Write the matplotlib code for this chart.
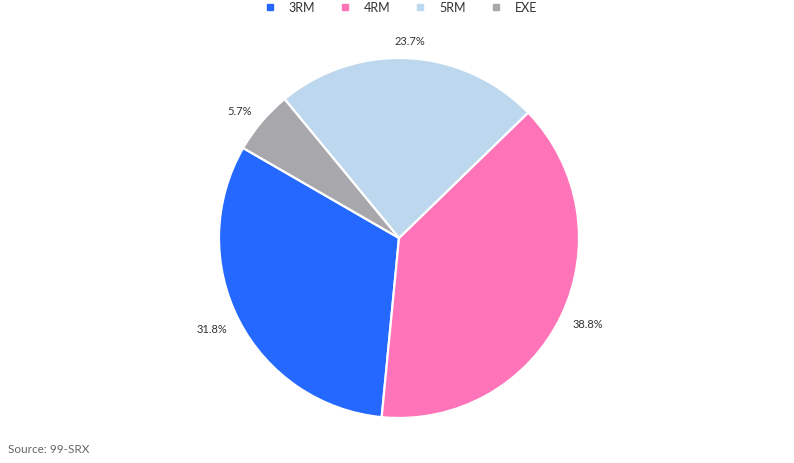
import matplotlib
matplotlib.use("Agg")
import matplotlib.pyplot as plt
from matplotlib.lines import Line2D
import numpy as np

plt.rcParams['font.family'] = ['Lato', 'DejaVu Sans']

# data
categories = ["3RM", "4RM", "5RM", "EXE"]
shares = [31.8, 38.8, 23.7, 5.7]
colors = ["#2468ff", "#ff74b8", "#bdd8ee", "#a8a8ac"]

W, H = 794, 464
fig = plt.figure(figsize=(W / 100, H / 100), dpi=100)

# pie centre and radius in pixels
cx, cy, r = 399, 239, 180
ax = fig.add_axes([(cx - r) / W, (H - cy - r) / H, 2 * r / W, 2 * r / H])

wedges, _ = ax.pie(shares, colors=colors, startangle=150, counterclock=True,
                   wedgeprops=dict(edgecolor="white", linewidth=1.6))
ax.set_xlim(-1, 1)
ax.set_ylim(-1, 1)
ax.set_aspect("equal")
ax.axis("off")

# percentage labels outside
for w, v in zip(wedges, shares):
    mid = np.deg2rad((w.theta1 + w.theta2) / 2)
    x, y = np.cos(mid), np.sin(mid)
    if abs(x) < 0.2:
        ha = "center"
    elif x > 0:
        ha = "left"
    else:
        ha = "right"
    ax.text(1.07 * x, 1.1 * y, f"{v}%", ha=ha, va="center", fontsize=8,
            color="#333333", clip_on=False)

handles = [Line2D([], [], marker="s", linestyle="none", markersize=5,
                  markerfacecolor=c, markeredgecolor=c) for c in colors]
fig.legend(handles, categories, loc="upper center", bbox_to_anchor=(0.5, 1.02),
           ncol=4, frameon=False, fontsize=9, handletextpad=0.5,
           columnspacing=1.4, labelcolor="#333333")

fig.text(8 / W, 1 - 450 / H, "Source: 99-SRX", fontsize=8.5, color="#666666",
         va="center", ha="left")

fig.savefig("out.png", dpi=100)
